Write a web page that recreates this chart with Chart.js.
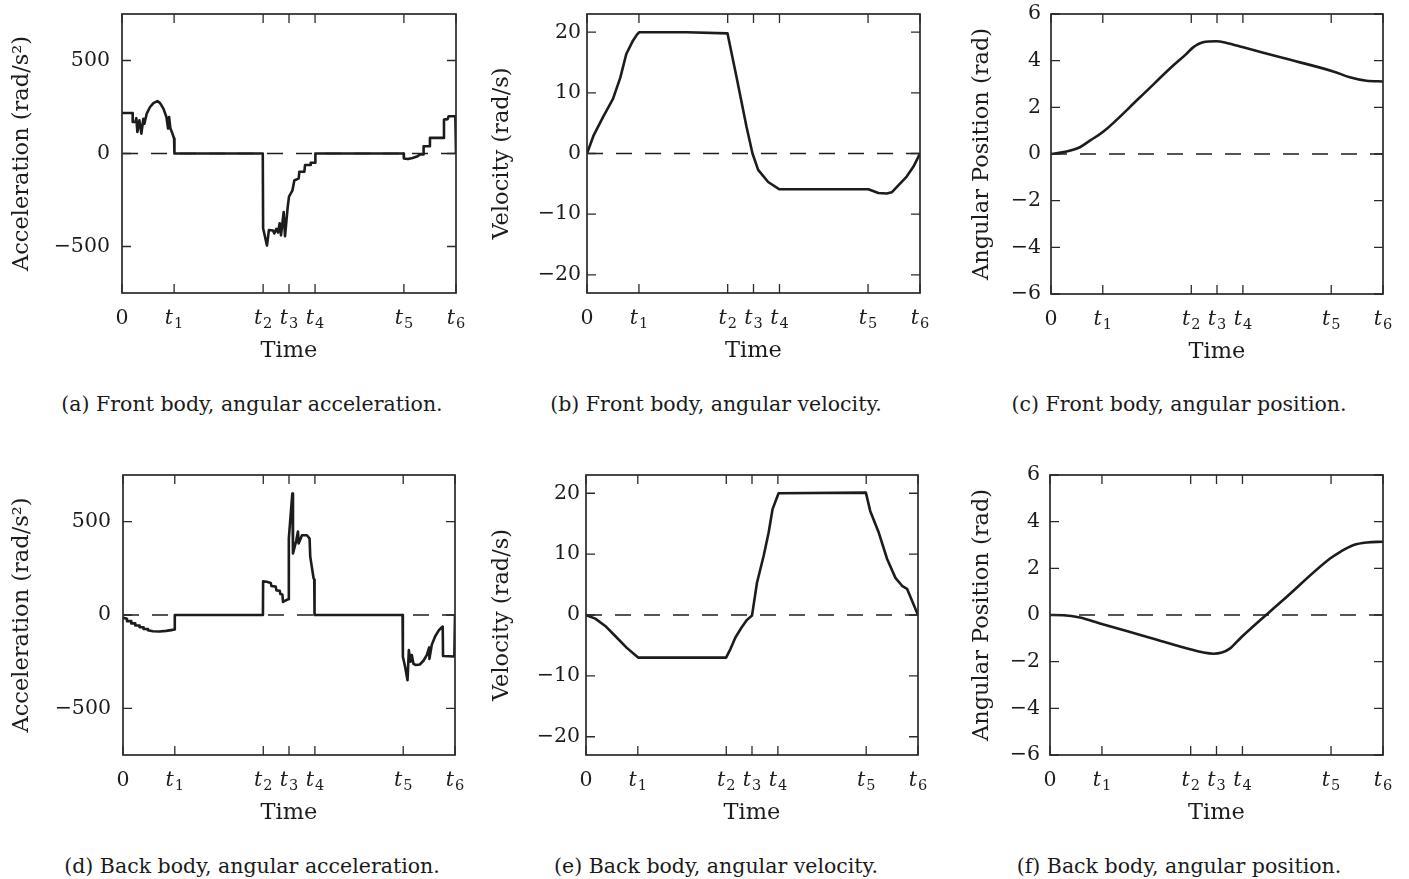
<!DOCTYPE html>
<html><head><meta charset="utf-8">
<script src="https://cdn.jsdelivr.net/npm/chart.js@4.4.1/dist/chart.umd.min.js"></script>
<style>
html,body{margin:0;padding:0;background:#fff;}
body{width:1409px;height:879px;position:relative;overflow:hidden;font-family:"DejaVu Serif",serif;}
canvas{position:absolute;}
.cap{position:absolute;font-family:"DejaVu Serif",serif;font-size:20.5px;line-height:20.5px;color:#1a1a1a;white-space:nowrap;transform:translateX(-50%);}
</style></head><body>
<canvas id="cA"></canvas><canvas id="cB"></canvas><canvas id="cC"></canvas>
<canvas id="cD"></canvas><canvas id="cE"></canvas><canvas id="cF"></canvas>
<div class="cap" style="left:252px;top:394px">(a) Front body, angular acceleration.</div>
<div class="cap" style="left:716px;top:394px">(b) Front body, angular velocity.</div>
<div class="cap" style="left:1179px;top:394px">(c) Front body, angular position.</div>
<div class="cap" style="left:252px;top:856px">(d) Back body, angular acceleration.</div>
<div class="cap" style="left:716px;top:856px">(e) Back body, angular velocity.</div>
<div class="cap" style="left:1179px;top:856px">(f) Back body, angular position.</div>
<script>
// ---- tick definitions ----
const timeTicks = [0, 0.156, 0.4225, 0.5, 0.578, 0.844, 1];
const timeTickLabels = ['0', 't1', 't2', 't3', 't4', 't5', 't6'];
const accTicks = [-500, 0, 500];
const velTicks = [-20, -10, 0, 10, 20];
const posTicks = [-6, -4, -2, 0, 2, 4, 6];
const zeroT = [0, 1];
const zeroV = [0, 0];

// ---- (a) front body, angular acceleration ----
const frontAccT = [0, 0.032, 0.032, 0.040, 0.043, 0.046, 0.052, 0.058, 0.064, 0.067, 0.074, 0.084, 0.094, 0.106, 0.114, 0.124, 0.133, 0.138, 0.141, 0.145, 0.151, 0.156, 0.157,
  0.4215, 0.4225, 0.434, 0.440, 0.452, 0.456, 0.462, 0.467, 0.472, 0.476, 0.484, 0.488, 0.496, 0.500, 0.510, 0.516, 0.529, 0.531, 0.546, 0.548, 0.563, 0.565, 0.578, 0.579,
  0.843, 0.844, 0.856, 0.870, 0.885, 0.892, 0.902, 0.903, 0.921, 0.922, 0.963, 0.964, 0.975, 0.978, 0.998, 1.0];
const frontAccV = [218, 218, 169, 169, 190, 116, 178, 107, 187, 160, 214, 250, 271, 282, 271, 241, 196, 134, 196, 134, 107, 80, 0,
  0, -402, -495, -411, -414, -430, -405, -425, -375, -440, -315, -445, -290, -232, -200, -145, -134, -98, -98, -62, -62, -50, -50, 0,
  0, -27, -30, -24, -15, -5, -5, 39, 39, 84, 84, 182, 185, 200, 200, 0];

// ---- (b) front body, angular velocity ----
const frontVelT = [0, 0.02, 0.048, 0.078, 0.100, 0.118, 0.138, 0.150, 0.157, 0.30, 0.422, 0.449, 0.479, 0.497, 0.514, 0.544, 0.578, 0.845, 0.875, 0.900, 0.915, 0.960, 0.980, 1.0];
const frontVelV = [0, 3.0, 6.0, 9.0, 12.5, 16.4, 18.6, 19.6, 20.0, 20.0, 19.8, 12.6, 4.4, 0, -2.7, -4.7, -5.9, -5.9, -6.5, -6.6, -6.4, -3.8, -2.2, 0];

// ---- (c) front body, angular position ----
const frontPosT = [0, 0.047, 0.087, 0.117, 0.157, 0.268, 0.368, 0.408, 0.428, 0.458, 0.498, 0.529, 0.579, 0.70, 0.85, 0.90, 0.95, 1.0];
const frontPosV = [0, 0.11, 0.29, 0.57, 0.95, 2.43, 3.79, 4.29, 4.57, 4.79, 4.83, 4.76, 4.57, 4.11, 3.54, 3.29, 3.14, 3.11];

// ---- (d) back body, angular acceleration ----
const backAccT = [0, 0.012, 0.012, 0.025, 0.025, 0.037, 0.037, 0.05, 0.05, 0.062, 0.062, 0.075, 0.075, 0.09, 0.11, 0.13, 0.145, 0.155, 0.156,
  0.4215, 0.422, 0.433, 0.445, 0.447, 0.460, 0.462, 0.472, 0.474, 0.480, 0.482, 0.492, 0.499, 0.4995, 0.510, 0.512, 0.522, 0.527, 0.529, 0.539, 0.554, 0.562, 0.564, 0.574, 0.576, 0.577,
  0.842, 0.843, 0.850, 0.857, 0.861, 0.866, 0.870, 0.875, 0.882, 0.894, 0.905, 0.915, 0.922, 0.923, 0.930, 0.940, 0.952, 0.963, 0.964, 0.998, 1.0];
const backAccV = [-15, -20, -33, -33, -45, -45, -56, -56, -66, -66, -75, -75, -82, -87, -88, -85, -81, -78, 0,
  0, 180, 178, 172, 155, 152, 132, 130, 112, 110, 70, 80, 85, 410, 650, 330, 400, 447, 383, 427, 427, 409, 313, 197, 190, 0,
  0, -223, -280, -349, -188, -250, -215, -262, -268, -265, -245, -215, -175, -235, -160, -115, -80, -62, -220, -222, 0];

// ---- (e) back body, angular velocity ----
const backVelT = [0, 0.028, 0.058, 0.088, 0.123, 0.157, 0.422, 0.435, 0.450, 0.468, 0.485, 0.500, 0.515, 0.535, 0.550, 0.562, 0.580, 0.843, 0.856, 0.882, 0.907, 0.932, 0.952, 0.967, 1.0];
const backVelV = [0, -0.6, -1.8, -3.45, -5.4, -7.0, -7.0, -5.6, -3.7, -2.1, -0.8, -0.1, 5.3, 9.7, 13.5, 17.4, 20.0, 20.1, 17.1, 13.5, 9.2, 6.1, 4.8, 4.3, 0];

// ---- (f) back body, angular position ----
const backPosT = [0, 0.04, 0.09, 0.15, 0.30, 0.421, 0.461, 0.491, 0.516, 0.541, 0.576, 0.70, 0.842, 0.872, 0.912, 0.952, 1.0];
const backPosV = [0, -0.01, -0.11, -0.36, -0.97, -1.47, -1.61, -1.66, -1.61, -1.43, -0.93, 0.64, 2.43, 2.71, 3.0, 3.11, 3.14];

// ---- layout ----
const FONT = '"DejaVu Serif", serif';
const INK = '#1c1c1c';
const YAXW = 122, PADT = 14, PADR = 14, XAXH = 80;

const panels = [
  {id:'cA', L:122, R:456, T:14, B:293, t:frontAccT, v:frontAccV, min:-750, max:750, ticks:accTicks, title:'Acceleration (rad/s²)', lp:12, tc:22.5, smooth:false},
  {id:'cB', L:587, R:920, T:14, B:293, t:frontVelT, v:frontVelV, min:-23, max:23, ticks:velTicks, title:'Velocity (rad/s)', lp:6, tc:502.5, smooth:false},
  {id:'cC', L:1051, R:1383, T:14, B:294, t:frontPosT, v:frontPosV, min:-6, max:6, ticks:posTicks, title:'Angular Position (rad)', lp:10, tc:982.5, smooth:true},
  {id:'cD', L:123, R:455, T:475, B:755, t:backAccT, v:backAccV, min:-750, max:750, ticks:accTicks, title:'Acceleration (rad/s²)', lp:12, tc:22.5, smooth:false},
  {id:'cE', L:586, R:918, T:475, B:755, t:backVelT, v:backVelV, min:-23, max:23, ticks:velTicks, title:'Velocity (rad/s)', lp:6, tc:502.5, smooth:false},
  {id:'cF', L:1050, R:1383, T:475, B:755, t:backPosT, v:backPosV, min:-6, max:6, ticks:posTicks, title:'Angular Position (rad)', lp:10, tc:981.7, smooth:true},
];

const fmt = v => v < 0 ? '\u2212' + Math.abs(v) : String(v);

const framePlugin = {
  id: 'frameTicks',
  afterDraw(chart) {
    const {ctx, chartArea: a, scales: {x, y}} = chart;
    ctx.save();
    ctx.strokeStyle = '#2a2a2a';
    ctx.lineWidth = 1.3;
    const TL = 9;
    ctx.beginPath();
    for (const tk of y.ticks) {
      const py = y.getPixelForValue(tk.value);
      ctx.moveTo(a.left, py); ctx.lineTo(a.left + TL, py);
      ctx.moveTo(a.right, py); ctx.lineTo(a.right - TL, py);
    }
    for (const tk of x.ticks) {
      const px = x.getPixelForValue(tk.value);
      ctx.moveTo(px, a.top); ctx.lineTo(px, a.top + TL);
      ctx.moveTo(px, a.bottom); ctx.lineTo(px, a.bottom - TL);
    }
    ctx.stroke();
    ctx.lineWidth = 1.7;
    ctx.strokeRect(a.left, a.top, a.right - a.left, a.bottom - a.top);
    // x tick labels: upright 0, italic t with subscript index
    ctx.fillStyle = INK;
    ctx.textBaseline = 'alphabetic';
    const base = a.bottom + 31;
    timeTicks.forEach((v, i) => {
      const px = x.getPixelForValue(v);
      const lab = timeTickLabels[i];
      if (lab.length === 1) {
        ctx.font = '20.5px ' + FONT;
        ctx.textAlign = 'center';
        ctx.fillText(lab, px, base);
      } else {
        const main = lab[0], sub = lab.slice(1);
        ctx.font = 'italic 20.5px ' + FONT;
        const w1 = ctx.measureText(main).width;
        ctx.font = '14.5px ' + FONT;
        const w2 = ctx.measureText(sub).width;
        const gap = 1;
        const x0 = px - (w1 + gap + w2) / 2;
        ctx.textAlign = 'left';
        ctx.font = 'italic 20.5px ' + FONT;
        ctx.fillText(main, x0, base);
        ctx.font = '14.5px ' + FONT;
        ctx.fillText(sub, x0 + w1 + gap, base + 3.5);
      }
    });
    ctx.restore();
  }
};

panels.forEach(p => {
  const cv = document.getElementById(p.id);
  const left = p.L - YAXW, top = p.T - PADT;
  const w = YAXW + (p.R - p.L) + PADR;
  const h = PADT + (p.B - p.T) + XAXH;
  cv.width = w; cv.height = h;
  cv.style.left = left + 'px'; cv.style.top = top + 'px';
  cv.style.width = w + 'px'; cv.style.height = h + 'px';
  const curve = p.t.map((tt, i) => ({x: tt, y: p.v[i]}));
  const zero = zeroT.map((tt, i) => ({x: tt, y: zeroV[i]}));
  new Chart(cv, {
    type: 'line',
    data: {
      datasets: [
        {data: curve, borderColor: INK, borderWidth: 2.6, pointRadius: 0, fill: false,
         tension: 0, cubicInterpolationMode: p.smooth ? 'monotone' : 'default', borderJoinStyle: 'round'},
        {data: zero, borderColor: '#1e1e1e', borderWidth: 1.4, borderDash: [16, 13], pointRadius: 0, fill: false, tension: 0}
      ]
    },
    options: {
      responsive: false, animation: false, devicePixelRatio: 1,
      layout: {padding: {left: 0, top: PADT, right: PADR, bottom: 0}},
      plugins: {legend: {display: false}, tooltip: {enabled: false}},
      scales: {
        x: {
          type: 'linear', min: 0, max: 1, position: 'bottom',
          grid: {display: false, drawTicks: false}, border: {display: false},
          ticks: {display: false},
          afterBuildTicks: s => { s.ticks = timeTicks.map(v => ({value: v})); },
          afterFit: s => { s.height = XAXH; s.paddingLeft = 0; s.paddingRight = 0; },
          title: {display: true, text: 'Time', color: INK, font: {family: FONT, size: 22.5, lineHeight: 1.2}, padding: {top: 0, bottom: 8}}
        },
        y: {
          type: 'linear', min: p.min, max: p.max, position: 'left',
          grid: {display: false, drawTicks: false}, border: {display: false},
          ticks: {color: INK, font: {family: FONT, size: 20.5}, padding: p.lp, autoSkip: false, callback: v => fmt(v)},
          afterBuildTicks: s => { s.ticks = p.ticks.map(v => ({value: v})); },
          afterFit: s => { s.width = YAXW; s.paddingTop = 0; s.paddingBottom = 0; },
          title: {display: true, text: p.title, color: INK, font: {family: FONT, size: 22.5, lineHeight: 1.2},
                  padding: {top: p.tc - left - 13.5, bottom: 0}}
        }
      }
    },
    plugins: [framePlugin]
  });
});
</script>
</body></html>
